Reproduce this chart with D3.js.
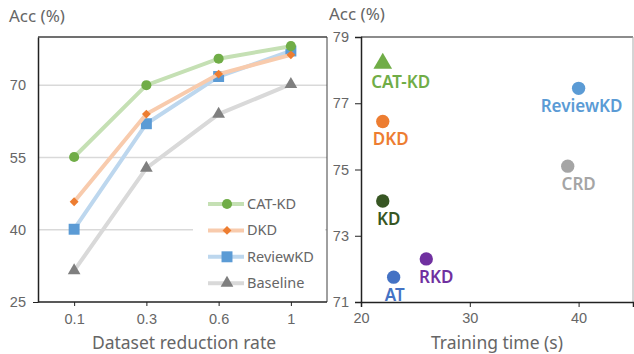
<!DOCTYPE html>
<html lang="en">
<head>
  <meta charset="UTF-8">
  <title>Acc vs reduction rate / training time</title>
  <script src="https://d3js.org/d3.v7.min.js"></script>
  <style>
    body {margin: 0; padding: 0; background: #fff;}
    svg {display: block; font-family: "Noto Sans", sans-serif;}
    .tick text {fill: #666; font-size: 14.5px;}
    .title {fill: #666; font-size: 17px;}
    .xlabel {fill: #666; font-size: 17.5px;}
  </style>
</head>
<body>
  <div id="chart"></div>
  <script>
    // left panel: accuracy vs dataset reduction rate
    const rates = ["0.1", "0.3", "0.6", "1"];
    const catKD    = [55.1, 70.0, 75.5, 78.1];
    const dkd      = [45.8, 64.0, 72.3, 76.3];
    const reviewKD = [40.1, 62.0, 71.8, 77.1];
    const baseline = [31.5, 52.8, 64.0, 70.2];
    const leftTicks = [25, 40, 55, 70];

    // right panel: accuracy vs training time
    const methods = ["CAT-KD", "ReviewKD", "DKD", "CRD", "KD", "RKD", "AT"];
    const trainTime = [22, 40, 22, 39, 22, 26, 23];
    const methodAcc = [78.2, 77.45, 76.45, 75.1, 74.05, 72.3, 71.75];
    const rightYTicks = [71, 73, 75, 77, 79];
    const rightXTicks = [20, 30, 40];

    const width = 634, height = 354;
    const svg = d3.select("#chart").append("svg")
      .attr("width", width).attr("height", height);

    const series = [
      {name: "CAT-KD",   values: catKD,    line: "#C5E0B4", color: "#70AD47", shape: d3.symbolCircle,   size: 80},
      {name: "DKD",      values: dkd,      line: "#F8CBAD", color: "#ED7D31", shape: d3.symbolDiamond2, size: 50},
      {name: "ReviewKD", values: reviewKD, line: "#BDD7EE", color: "#5B9BD5", shape: d3.symbolSquare,   size: 120},
      {name: "Baseline", values: baseline, line: "#D9D9D9", color: "#7F7F7F", shape: d3.symbolTriangle, size: 70}
    ];

    // ---- left panel ----
    const x1 = d3.scalePoint().domain(rates).range([38, 327]).padding(0.5);
    const y1 = d3.scaleLinear().domain([25, 80]).range([302, 37]);

    const left = svg.append("g");
    left.append("g").selectAll("line").data(leftTicks.slice(1)).join("line")
      .attr("x1", 38).attr("x2", 327)
      .attr("y1", d => y1(d)).attr("y2", d => y1(d))
      .attr("stroke", "#D9D9D9").attr("stroke-width", 1.5);

    left.append("line").attr("x1", 38).attr("x2", 327).attr("y1", 37).attr("y2", 37)
      .attr("stroke", "#404040").attr("stroke-width", 1.5);
    left.append("line").attr("x1", 327).attr("x2", 327).attr("y1", 37).attr("y2", 302)
      .attr("stroke", "#404040").attr("stroke-width", 1);

    const line = d3.line().x((d, i) => x1(rates[i])).y(d => y1(d));
    series.slice().reverse().forEach(s => {
      left.append("path").attr("d", line(s.values))
        .attr("fill", "none").attr("stroke", s.line).attr("stroke-width", 4);
      left.selectAll(null).data(s.values).join("path")
        .attr("transform", (d, i) => `translate(${x1(rates[i])},${y1(d)})`)
        .attr("d", d3.symbol(s.shape, s.size))
        .attr("fill", s.color);
    });

    // legend
    const legend = left.append("g");
    legend.append("rect").attr("x", 193).attr("y", 190).attr("width", 132).attr("height", 108)
      .attr("fill", "#fff");
    series.forEach((s, i) => {
      const g = legend.append("g").attr("transform", `translate(0,${204 + i * 26.4})`);
      g.append("line").attr("x1", 208).attr("x2", 244)
        .attr("stroke", s.line).attr("stroke-width", 4);
      g.append("path").attr("transform", "translate(227,0)")
        .attr("d", d3.symbol(s.shape, s.size)).attr("fill", s.color);
      g.append("text").attr("x", 247).attr("dy", "0.35em")
        .attr("fill", "#666").style("font-size", "14.5px").text(s.name);
    });

    left.append("g").attr("transform", "translate(0,302)")
      .call(d3.axisBottom(x1).tickSize(4).tickPadding(8))
      .call(g => g.select(".domain").attr("d", "M38,0H327").attr("stroke", "#222").attr("stroke-width", 1.5))
      .call(g => g.selectAll(".tick line").attr("stroke", "#222"));
    left.append("g").attr("transform", "translate(38,0)")
      .call(d3.axisLeft(y1).tickValues(leftTicks).tickSize(0).tickPadding(12))
      .call(g => g.select(".domain").attr("stroke", "#222").attr("stroke-width", 1.5))
      .call(g => g.selectAll(".tick").filter(d => d === 25).append("line")
        .attr("x2", -5).attr("stroke", "#222"));

    left.append("text").attr("class", "title").attr("x", 9).attr("y", 22).text("Acc (%)");
    left.append("text").attr("class", "xlabel").attr("x", 184).attr("y", 349)
      .attr("text-anchor", "middle").text("Dataset reduction rate");

    // ---- right panel ----
    const x2 = d3.scaleLinear().domain([20, 45]).range([361, 633]);
    const y2 = d3.scaleLinear().domain([71, 79]).range([302, 37]);
    const right = svg.append("g");

    right.append("line").attr("x1", 361).attr("x2", 633).attr("y1", 37).attr("y2", 37)
      .attr("stroke", "#666").attr("stroke-width", 1.5);
    right.append("line").attr("x1", 633).attr("x2", 633).attr("y1", 37).attr("y2", 302)
      .attr("stroke", "#aaa").attr("stroke-width", 1);

    right.append("g").attr("transform", "translate(0,302)")
      .call(d3.axisBottom(x2).tickValues(rightXTicks).tickSize(5).tickPadding(6))
      .call(g => g.select(".domain").attr("stroke", "#222").attr("stroke-width", 1.5))
      .call(g => g.selectAll(".tick line").attr("stroke", "#222"));
    right.append("g").attr("transform", "translate(361,0)")
      .call(d3.axisLeft(y2).tickValues(rightYTicks).tickSize(6).tickPadding(6))
      .call(g => g.select(".domain").attr("stroke", "#222").attr("stroke-width", 1.5))
      .call(g => g.selectAll(".tick line").attr("stroke", "#222"));

    const pointColor = {"CAT-KD": "#70AD47", "ReviewKD": "#5B9BD5", "DKD": "#ED7D31", "CRD": "#A5A5A5",
                        "KD": "#375623", "RKD": "#7030A0", "AT": "#4472C4"};
    const labelDx = {"CAT-KD": 18, "ReviewKD": 3, "DKD": 8, "CRD": 11, "KD": 6, "RKD": 10, "AT": 1};

    methods.forEach((m, i) => {
      const px = x2(trainTime[i]), py = y2(methodAcc[i]);
      right.append("path").attr("transform", `translate(${px},${py})`)
        .attr("d", d3.symbol(m === "CAT-KD" ? d3.symbolTriangle : d3.symbolCircle, m === "CAT-KD" ? 150 : 140))
        .attr("fill", pointColor[m]);
      right.append("text").attr("x", px + labelDx[m]).attr("y", py + 24)
        .attr("text-anchor", "middle").attr("fill", pointColor[m])
        .style("font-size", "17px").style("font-weight", "600").text(m);
    });

    right.append("text").attr("class", "title").attr("x", 329).attr("y", 20).text("Acc (%)");
    right.append("text").attr("class", "xlabel").attr("x", 497).attr("y", 349)
      .attr("text-anchor", "middle").text("Training time (s)");
  </script>
</body>
</html>
